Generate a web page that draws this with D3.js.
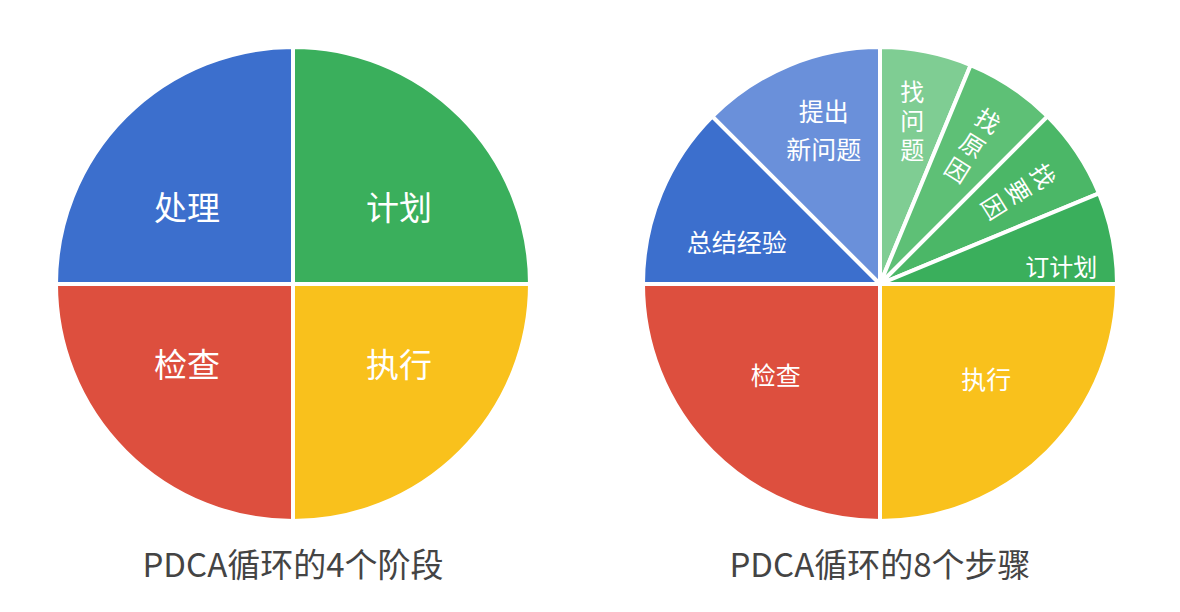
<!DOCTYPE html>
<html><head><meta charset="utf-8">
<script src="https://cdn.jsdelivr.net/npm/d3@7"></script>
<style>body{margin:0;background:#fff}text{font-family:"Noto Sans CJK SC",sans-serif}</style>
</head><body><svg id="c" width="1180" height="612"></svg>
<script>
// 4 stages, clockwise from 12 o'clock
let stageLabels = ['计划','执行','检查','处理'];
let stageValues = [1,1,1,1];
let stageColors = ['#3aaf5c','#f9c11c','#dd4f3e','#3c6fcd'];
// 8 steps
let stepLabels = ['找问题','找原因','找要因','订计划','执行','检查','总结经验','提出新问题'];
let stepValues = [1,1,1,1,4,4,2,2];
let stepColors = ['#7fcd93','#5ec076','#4bb767','#3aaf5c','#f9c11c','#dd4f3e','#3c6fcd','#6a90da'];
let titles = ['PDCA循环的4个阶段','PDCA循环的8个步骤'];

let svg = d3.select('#c');
let R = 237;
let pie = d3.pie().sort(null).value(d => d);
let arc = d3.arc().innerRadius(0).outerRadius(R);

function drawPie(cx, cy, values, colors) {
  let g = svg.append('g').attr('transform', 'translate(' + cx + ',' + cy + ')');
  g.selectAll('path').data(pie(values)).enter().append('path')
    .attr('d', arc).attr('fill', (d, i) => colors[i])
    .attr('stroke', '#fff').attr('stroke-width', 4);
  return g;
}

// left
let g1 = drawPie(293, 284, stageValues, stageColors);
let la = d3.arc().innerRadius(R * 0.55).outerRadius(R * 0.55);
g1.selectAll('text').data(pie(stageValues)).enter().append('text')
  .attr('transform', d => { let c = la.centroid(d); return 'translate(' + (c[0] * 1.15) + ',' + (c[1] * 0.85 + 3) + ')'; })
  .attr('text-anchor', 'middle').attr('dy', '0.35em')
  .attr('fill', '#fff').attr('font-size', 33).text((d, i) => stageLabels[i]);

// right
let g2 = drawPie(880, 284, stepValues, stepColors);
let arcs2 = pie(stepValues);
let txt = (x, y, s, size) => g2.append('text').attr('x', x).attr('y', y)
  .attr('text-anchor', 'middle').attr('dy', '0.35em').attr('fill', '#fff')
  .attr('font-size', size || 25).text(s);

// small green slices: stacked characters, rotated
let rot = [0, 32, 58];
[0, 1, 2].forEach(i => {
  let c = d3.arc().innerRadius(R * 0.7).outerRadius(R * 0.7).centroid(arcs2[i]);
  let t = g2.append('g').attr('transform', 'translate(' + c + ') rotate(' + rot[i] + ')');
  stepLabels[i].split('').forEach((ch, k) => {
    t.append('text').attr('x', 0).attr('y', (k - 1) * 29).attr('dy', '0.35em')
      .attr('text-anchor', 'middle').attr('fill', '#fff').attr('font-size', 24).text(ch);
  });
});
let c3 = d3.arc().innerRadius(R * 0.78).outerRadius(R * 0.78).centroid(arcs2[3]);
txt(c3[0], c3[1] + 20, stepLabels[3], 24);
let c4 = d3.arc().innerRadius(R * 0.55).outerRadius(R * 0.55).centroid(arcs2[4]);
txt(c4[0] + 14, c4[1] + 4, stepLabels[4]);
let c5 = d3.arc().innerRadius(R * 0.55).outerRadius(R * 0.55).centroid(arcs2[5]);
txt(c5[0] - 12, c5[1], stepLabels[5]);
let c6 = d3.arc().innerRadius(R * 0.6).outerRadius(R * 0.6).centroid(arcs2[6]);
txt(c6[0] - 12, c6[1] + 14, stepLabels[6]);
let c7 = d3.arc().innerRadius(R * 0.62).outerRadius(R * 0.62).centroid(arcs2[7]);
txt(c7[0], c7[1] - 36, stepLabels[7].slice(0, 2));
txt(c7[0], c7[1] + 2, stepLabels[7].slice(2));

// titles
[293, 880].forEach((x, i) => svg.append('text').attr('x', x).attr('y', 565)
  .attr('text-anchor', 'middle').attr('dy', '0.35em').attr('fill', '#444')
  .attr('font-size', 33).text(titles[i]));
</script></body></html>
